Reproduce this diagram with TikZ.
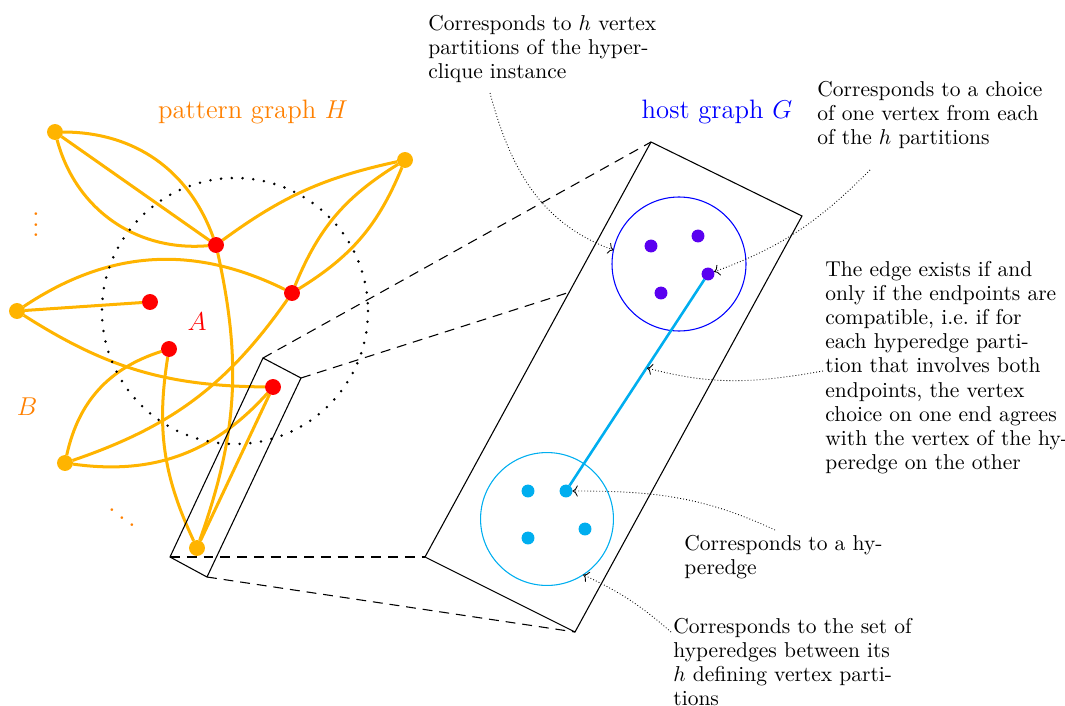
\documentclass[tikz,border=0pt]{standalone}
\usetikzlibrary{arrows.meta}
\definecolor{hor}{RGB}{255,180,0}
\definecolor{lab}{RGB}{255,128,0}
\definecolor{viol}{RGB}{90,0,240}
\definecolor{cy}{RGB}{0,174,239}
\pgfdeclarelayer{bg}
\pgfsetlayers{bg,main}
\begin{document}
\begin{tikzpicture}[x=0.465pt,y=-0.465pt,
  onode/.style={circle,fill=hor,inner sep=0pt,outer sep=0pt,minimum size=7.4pt},
  rnode/.style={circle,fill=red,inner sep=0pt,outer sep=0pt,minimum size=7.4pt},
  hedge/.style={draw=hor,line width=1.4pt},
  vdot/.style={circle,fill=viol,inner sep=0pt,outer sep=0pt,minimum size=6pt},
  cdot/.style={circle,fill=cy,inner sep=0pt,outer sep=0pt,minimum size=6pt},
  note/.style={anchor=north west,inner sep=0pt,align=left,font=\fontsize{10}{11.2}\selectfont},
  pointer/.style={densely dotted,->,line width=0.4pt},
  frame/.style={draw,line width=0.5pt},
  zoomline/.style={dash pattern=on 4.6pt off 3.2pt,line width=0.5pt},
  dotcirc/.style={line width=1.3pt,dash pattern=on 0pt off 5pt,line cap=round},
  title/.style={font=\fontsize{12.4}{15}\selectfont}
]
\path[use as bounding box] (0,0) rectangle (1065,706);

% pattern graph nodes
\node[onode] (o1) at (55,132) {};
\node[onode] (o2) at (405,160) {};
\node[onode] (o3) at (17,311) {};
\node[onode] (o4) at (65,463) {};
\node[onode] (o5) at (197,548) {};
\node[rnode] (r1) at (216,245) {};
\node[rnode] (r2) at (292,293) {};
\node[rnode] (r3) at (150,302) {};
\node[rnode] (r4) at (169,349) {};
\node[rnode] (r5) at (273,387) {};

\begin{pgfonlayer}{bg}
\draw[hedge] (o1) to[bend left=35] (r1);
\draw[hedge] (o1) -- (r1);
\draw[hedge] (o1) to[bend right=40] (r1);
\draw[hedge] (r1) to[bend left=12] (o2);
\draw[hedge] (r2) to[bend left=18] (o2);
\draw[hedge] (r2) to[bend right=18] (o2);
\draw[hedge] (o3) -- (r3);
\draw[hedge] (o3) to[bend left=30] (r2);
\draw[hedge] (o3) to[bend right=16] (r5);
\draw[hedge] (o4) to[bend left=30] (r4);
\draw[hedge] (o4) to[bend right=18] (r2);
\draw[hedge] (o4) to[bend right=28] (r5);
\draw[hedge] (o5) to[bend left=17] (r4);
\draw[hedge] (o5) to[bend right=16] (r1);
\draw[hedge] (o5) -- (r5);
\end{pgfonlayer}

\draw[dotcirc] (235,311) circle[radius=133];

% labels
\node[text=lab,title] (ptitle) at (253,112) {pattern graph $H$};
\node[text=blue,title] (htitle) at (717,112) {host graph $G$};
\node[text=red,title] (la) at (197,322) {$A$};
\node[text=lab,title] (lb) at (27,407) {$B$};
\node[text=lab,scale=1.2,inner sep=0pt] (vd) at (36,217) {$\vdots$};
\node[text=lab,scale=1.2,inner sep=0pt] (dd) at (122,510) {$\ddots$};

% small frame
\coordinate (q1) at (263,358);
\coordinate (q2) at (301,378);
\coordinate (q3) at (207,577);
\coordinate (q4) at (170,557);
\draw[frame] (q1) -- (q2) -- (q3) -- (q4) -- cycle;
% big frame
\coordinate (p1) at (651,142);
\coordinate (p2) at (802,216);
\coordinate (p3) at (575,632);
\coordinate (p4) at (425,557);
\coordinate (pm) at (567,293);
\draw[frame] (p1) -- (p2) -- (p3) -- (p4) -- cycle;
\draw[zoomline] (q1) -- (p1);
\draw[zoomline] (q2) -- (pm);
\draw[zoomline] (q4) -- (p4);
\draw[zoomline] (q3) -- (p3);

% host graph
\node[circle,draw=blue,line width=0.5pt,inner sep=0pt,outer sep=0pt,minimum size=62.3pt] (bc) at (679,264) {};
\node[circle,draw=cy,line width=0.5pt,inner sep=0pt,outer sep=0pt,minimum size=61.8pt] (cc) at (547,519) {};
\node[vdot] (v1) at (651,246) {};
\node[vdot] (v2) at (698,236) {};
\node[vdot] (v3) at (708,274) {};
\node[vdot] (v4) at (661,293) {};
\node[cdot] (c1) at (528,491) {};
\node[cdot] (c2) at (566,491) {};
\node[cdot] (c3) at (585,529) {};
\node[cdot] (c4) at (528,538) {};
\draw[cy,line width=1.2pt] (c2) -- (v3);

% notes
\node[note] (n1) at (428,15) {Corresponds to $h$ vertex\\partitions of the hyper-\\clique instance};
\node[note] (n2) at (817,81) {Corresponds to a choice\\of one vertex from each\\of the $h$ partitions};
\node[note] (n3) at (825,261) {The edge exists if and\\only if the endpoints are\\compatible, i.e.\ if for\\each hyperedge parti-\\tion that involves both\\endpoints, the vertex\\choice on one end agrees\\with the vertex of the hy-\\peredge on the other};
\node[note] (n4) at (684,535) {Corresponds to a hy-\\peredge};
\node[note] (n5) at (673,618) {Corresponds to the set of\\hyperedges between its\\$h$ defining vertex parti-\\tions};

% pointers
\coordinate (s1) at (490,93);
\coordinate (s2) at (870,170);
\coordinate (s3) at (823,371);
\coordinate (s4) at (775,530);
\coordinate (s5) at (671,632);
\coordinate (em) at (647,368);
\draw[pointer] (s1) to[out=-75,in=160] (bc.168);
\draw[pointer] (s2) to[out=225,in=20] (v3);
\draw[pointer] (s3) to[out=190,in=-15] (em);
\draw[pointer] (s4) to[out=155,in=0] (c2);
\draw[pointer] (s5) to[bend right=8] (cc.-57);
\end{tikzpicture}
\end{document}
